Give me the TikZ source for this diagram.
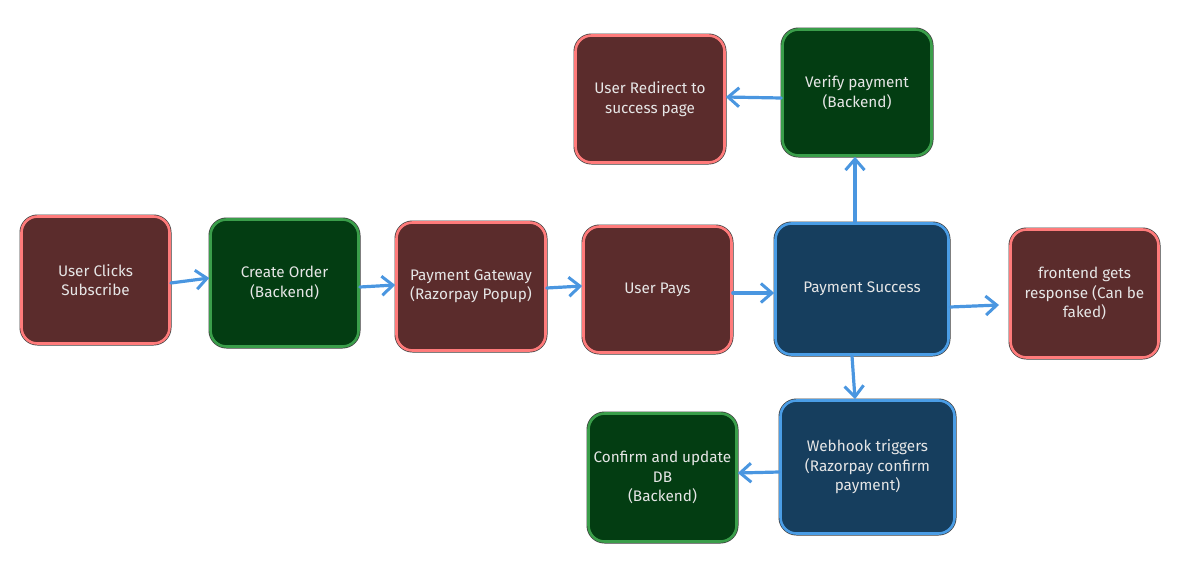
\documentclass[tikz,border=0pt]{standalone}
\usepackage{fontspec}
\setmainfont{Fira Sans}
\usetikzlibrary{arrows.meta}
\definecolor{redfill}{HTML}{5B2C2C}
\definecolor{redline}{HTML}{FF7B7B}
\definecolor{greenfill}{HTML}{033D12}
\definecolor{greenline}{HTML}{3A9E4A}
\definecolor{bluefill}{HTML}{163E5E}
\definecolor{blueline}{HTML}{4A9DE6}
\definecolor{arrowblue}{HTML}{4A96E0}
\definecolor{txt}{HTML}{E6E6E6}
\definecolor{edge}{HTML}{3A3A3A}
\tikzset{
  box/.style={rounded corners=16pt, line width=2.6pt, align=center,
    font=\fontsize{15.3}{19.5}\selectfont, text=txt, inner sep=0pt,
    preaction={draw=edge, line width=4pt}},
  redbox/.style={box, draw=redline, fill=redfill},
  greenbox/.style={box, draw=greenline, fill=greenfill},
  bluebox/.style={box, draw=blueline, fill=bluefill},
  conn/.style={draw=arrowblue, line width=3.2pt, line cap=round,
    -{Straight Barb[length=11pt,width=19pt,line width=3pt]}},
}
\begin{document}
\begin{tikzpicture}[x=1pt,y=-1pt]
\useasboundingbox (0,0) rectangle (1198,581);
\node[redbox, minimum width=148pt, minimum height=127pt] (uc) at (95.5,280) {User Clicks\\Subscribe};
\node[greenbox, minimum width=148pt, minimum height=127pt] (co) at (284.5,283) {Create Order\\(Backend)};
\node[redbox, minimum width=149pt, minimum height=128pt] (pg) at (471,286.5) {Payment Gateway\\(Razorpay Popup)};
\node[redbox, minimum width=148pt, minimum height=126pt] (up) at (657.5,289.5) {User Pays};
\node[bluebox, minimum width=173pt, minimum height=131pt] (ps) at (862,289) {Payment Success};
\node[redbox, minimum width=148pt, minimum height=128pt] (fe) at (1084.5,293.5) {frontend gets\\response (Can be\\faked)};
\node[greenbox, minimum width=149pt, minimum height=126pt] (vp) at (857,92.5) {Verify payment\\(Backend)};
\node[redbox, minimum width=149pt, minimum height=127pt] (rd) at (650,99) {User Redirect to\\success page};
\node[bluebox, minimum width=174pt, minimum height=133pt] (wh) at (867.5,467) {Webhook triggers\\(Razorpay confirm\\payment)};
\node[greenbox, minimum width=148pt, minimum height=128pt] (cf) at (662.5,477.5) {Confirm and update\\DB\\(Backend)};

\coordinate (pstop) at (855,222);
\coordinate (psbot) at (852,356);
\coordinate (psright) at (950,307);
\coordinate (feleft) at (999,305);

\draw[conn] (uc.east |- 0,283) -- (co.west |- 0,278);
\draw[conn] (co.east |- 0,287) -- (pg.west |- 0,285);
\draw[conn] (pg.east |- 0,288) -- (up.west |- 0,286);
\draw[conn] (up.east |- 0,293) -- (ps.west |- 0,293);
\draw[conn] (psright) -- (feleft);
\draw[conn] (pstop) -- (vp.south -| 855,0);
\draw[conn] (vp.west |- 0,98) -- (rd.east |- 0,97);
\draw[conn] (psbot) -- (wh.north -| 855,0);
\draw[conn] (wh.west |- 0,472) -- (cf.east |- 0,473);
\end{tikzpicture}
\end{document}
